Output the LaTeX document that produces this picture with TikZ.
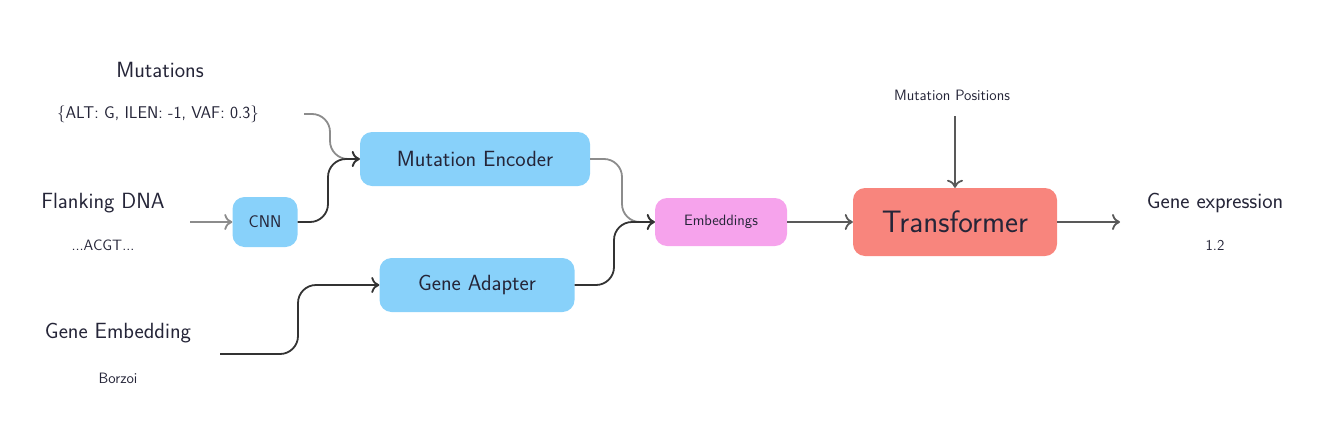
\RequirePackage{fix-cm}
\documentclass[tikz,border=0pt]{standalone}
\usetikzlibrary{arrows.meta}
\definecolor{bl}{HTML}{88D1FA}
\definecolor{pk}{HTML}{F6A3EC}
\definecolor{rd}{HTML}{F8857D}
\definecolor{tx}{HTML}{252538}
\begin{document}
\begin{tikzpicture}[x=1pt,y=-1pt,font=\sffamily,text=tx,
  box/.style={rounded corners=12pt,text=tx,inner sep=0pt},
  lab/.style={inner sep=0pt,font=\sffamily\fontsize{22}{26}\selectfont},
  sm/.style={inner sep=0pt,font=\sffamily\fontsize{15}{18}\selectfont},
  conn/.style={line width=1.8pt,-{To[length=8pt,width=16pt]},rounded corners=18pt},
  lt/.style={conn,draw=black!45},
  dk/.style={conn,draw=black!80}]
\useasboundingbox (0,0) rectangle (1328,426);
\node[lab] (mut) at (160,70) {Mutations};
\node[sm,font=\sffamily\fontsize{17}{20}\selectfont] (alt) at (158,114) {\{ALT: G, ILEN: -1, VAF: 0.3\}};
\node[lab] (fl) at (103,203) {Flanking DNA};
\node[sm] (acgt) at (103,245) {...ACGT...};
\node[lab] (ge) at (118,333) {Gene Embedding};
\node[sm] (bz) at (118,378) {Borzoi};
\node[box,fill=bl,minimum width=65pt,minimum height=50pt,font=\sffamily\fontsize{17}{20}\selectfont] (cnn) at (265,222) {CNN};
\node[box,fill=bl,minimum width=230pt,minimum height=54pt,font=\sffamily\fontsize{22}{26}\selectfont] (me) at (475,159) {Mutation Encoder};
\node[box,fill=bl,minimum width=195pt,minimum height=54pt,font=\sffamily\fontsize{22}{26}\selectfont] (ga) at (477,285) {Gene Adapter};
\node[box,fill=pk,minimum width=132pt,minimum height=48pt,font=\sffamily\fontsize{15}{18}\selectfont] (emb) at (721,222) {Embeddings};
\node[box,fill=rd,minimum width=204pt,minimum height=68pt,font=\sffamily\fontsize{31}{36}\selectfont] (tr) at (955,222) {Transformer};
\node[sm] (mp) at (952,95) {Mutation Positions};
\node[lab] (gx) at (1215,203) {Gene expression};
\node[sm] (v) at (1215,245) {1.2};
\coordinate (fle) at (190,222);
\coordinate (gee) at (220,354);
\coordinate (gxw) at (1120,222);
\coordinate (alte) at (304,114);
\coordinate (mps) at (955,116);
\draw[lt] (alte) -- (330,114) -- (330,159) -- (me.west);
\draw[dk] (cnn.east) -- (328,222) -- (328,159) -- (me.west);
\draw[lt] (fle) -- (cnn.west);
\draw[dk] (gee) -- (298,354) -- (298,285) -- (ga.west);
\draw[lt] (me.east) -- (622,159) -- (622,222) -- (emb.west);
\draw[dk] (ga.east) -- (614,285) -- (614,222) -- (emb.west);
\draw[lt,draw=black!65] (emb.east) -- (tr.west);
\draw[lt,draw=black!65] (tr.east) -- (gxw);
\draw[lt,draw=black!65] (mps) -- (tr.north);
\end{tikzpicture}
\end{document}
